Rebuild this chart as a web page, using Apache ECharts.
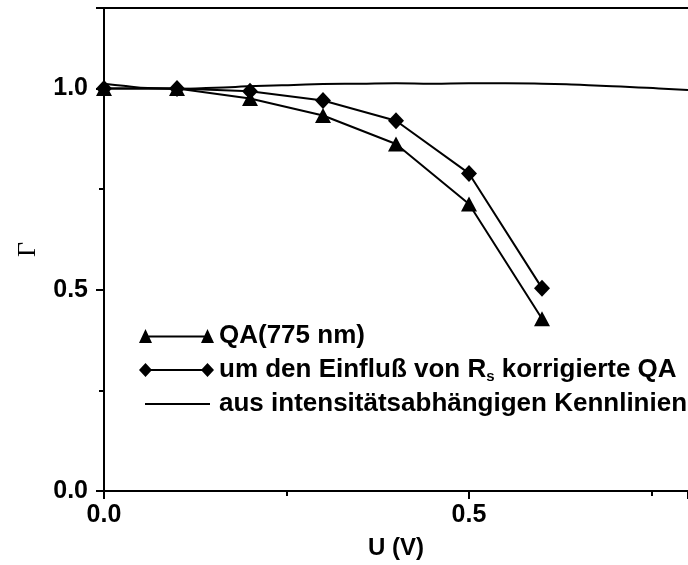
<!DOCTYPE html>
<html>
<head>
<meta charset="utf-8">
<script src="https://cdn.jsdelivr.net/npm/echarts@6/dist/echarts.min.js"></script>
<style>
html,body{margin:0;padding:0;background:#fff;}
#chart{width:688px;height:565px;}
</style>
</head>
<body>
<div id="chart"></div>
<script>
// Data
const U = [0, 0.1, 0.2, 0.3, 0.4, 0.5, 0.6];
const qa775 = [1.0, 1.0, 0.975, 0.933, 0.862, 0.713, 0.428];
const qaCorr = [1.0, 1.0, 0.993, 0.970, 0.920, 0.789, 0.504];
const intensU = [0, 0.03, 0.06, 0.1, 0.14, 0.18, 0.22, 0.26, 0.3, 0.35, 0.4, 0.45, 0.5, 0.55, 0.6, 0.64, 0.68, 0.72, 0.76, 0.8];
const intensGamma = [1.012, 1.006, 1.001, 0.999, 1.001, 1.004, 1.007, 1.009, 1.011, 1.012, 1.013, 1.012, 1.013, 1.013, 1.012, 1.010, 1.007, 1.004, 1.000, 0.996];
const xTicks = ['0.0', '0.5'];
const yTicks = ['0.0', '0.5', '1.0'];
const seriesNames = ['QA(775 nm)', 'um den Einfluß von Rs korrigierte QA', 'aus intensitätsabhängigen Kennlinien'];

const pairs = (xs, ys) => xs.map((x, i) => [x, ys[i]]);

const triIcon = 'path://M0 14L6.5 0L13 14Z M6.5 6.6L68.5 6.6L68.5 8.4L6.5 8.4Z M62 14L68.5 0L75 14Z';
const diaIcon = 'path://M0 7L6.5 0L13 7L6.5 14Z M6.5 6.1L68.5 6.1L68.5 7.9L6.5 7.9Z M62 7L68.5 0L75 7L68.5 14Z';
const lineIcon = 'path://M0 0L0.01 0L0 0.01Z M75 14L74.99 14L75 13.99Z M6 6.1L71 6.1L71 7.9L6 7.9Z';

const font = 'Liberation Sans, Arial, sans-serif';
const chart = echarts.init(document.getElementById('chart'));
chart.setOption({
  animation: false,
  backgroundColor: '#fff',
  grid: {left: 104, right: 0, top: 8, bottom: 70, containLabel: false},
  legend: {
    orient: 'vertical',
    left: 134, top: 317,
    itemWidth: 75, itemHeight: 14, itemGap: 6,
    symbolKeepAspect: false,
    textStyle: {color: '#000', fontFamily: font, fontWeight: 'bold', fontSize: 26, lineHeight: 28,
      rich: {
        sub: {fontFamily: font, fontWeight: 'bold', fontSize: 15, lineHeight: 15, verticalAlign: 'bottom', color: '#000'}
      }
    },
    formatter: function (name) {
      if (name === seriesNames[1]) return 'um den Einfluß von R{sub|s} korrigierte QA';
      return name;
    },
    data: [
      {name: seriesNames[0], icon: triIcon},
      {name: seriesNames[1], icon: diaIcon},
      {name: seriesNames[2], icon: lineIcon}
    ]
  },
  xAxis: [{
    type: 'value', min: 0, max: 0.8, interval: 0.5,
    name: 'U (V)', nameLocation: 'middle', nameGap: 45,
    nameTextStyle: {color: '#000', fontFamily: font, fontWeight: 'bold', fontSize: 24},
    axisLine: {show: true, lineStyle: {color: '#000', width: 2}},
    axisTick: {show: true, length: 8, lineStyle: {color: '#000', width: 2}},
    minorTick: {show: true, splitNumber: 2, length: 5, lineStyle: {color: '#000', width: 2}},
    splitLine: {show: false},
    axisLabel: {color: '#000', fontFamily: font, fontWeight: 'bold', fontSize: 25, margin: 12, showMaxLabel: false,
      formatter: function (v) { const i = Math.round(v / 0.5); return Math.abs(v - i * 0.5) < 1e-9 ? (xTicks[i] || '') : ''; }}
  }, {
    type: 'value', min: 0, max: 0.8, position: 'top',
    axisLine: {show: true, onZero: false, lineStyle: {color: '#000', width: 2}},
    axisTick: {show: false}, axisLabel: {show: false}, splitLine: {show: false}
  }],
  yAxis: {
    type: 'value', min: 0, max: 1.2, interval: 0.5,
    name: 'Γ', nameLocation: 'middle', nameGap: 63,
    nameTextStyle: {color: '#000', fontFamily: 'Liberation Serif, Times New Roman, serif', fontSize: 26},
    axisLine: {show: true, lineStyle: {color: '#000', width: 2}},
    axisTick: {show: true, length: 8, lineStyle: {color: '#000', width: 2}},
    minorTick: {show: true, splitNumber: 2, length: 5, lineStyle: {color: '#000', width: 2}},
    splitLine: {show: false},
    axisLabel: {color: '#000', fontFamily: font, fontWeight: 'bold', fontSize: 25, margin: 16, showMaxLabel: false,
      formatter: function (v) { const i = Math.round(v / 0.5); return Math.abs(v - i * 0.5) < 1e-9 ? (yTicks[i] || '') : ''; }}
  },
  series: [
    {
      name: seriesNames[2], type: 'line', data: pairs(intensU, intensGamma),
      symbol: 'none', smooth: true, lineStyle: {color: '#000', width: 2}, itemStyle: {color: '#000'}, z: 2
    },
    {
      name: seriesNames[0], type: 'line', data: pairs(U, qa775),
      symbol: 'triangle', symbolSize: [16, 15], lineStyle: {color: '#000', width: 2}, itemStyle: {color: '#000'}, z: 3
    },
    {
      name: seriesNames[1], type: 'line', data: pairs(U, qaCorr),
      symbol: 'diamond', symbolSize: [16, 17], lineStyle: {color: '#000', width: 2}, itemStyle: {color: '#000'}, z: 4
    }
  ]
});
</script>
</body>
</html>
